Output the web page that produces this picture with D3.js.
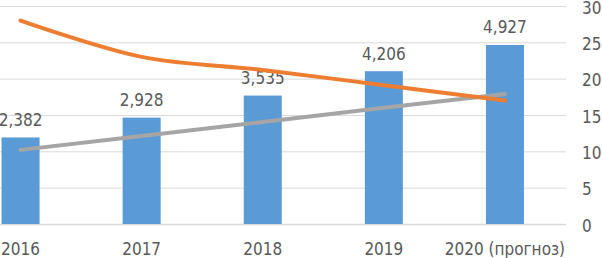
<!DOCTYPE html>
<html><head><meta charset="utf-8">
<script src="https://cdn.jsdelivr.net/npm/d3@7"></script>
<style>
html,body{margin:0;padding:0;background:#fff;overflow:hidden}
text{font-family:"DejaVu Sans Condensed","Liberation Sans Narrow",sans-serif;fill:#595959}
</style></head>
<body>
<svg id="chart" width="602" height="258"></svg>
<script>
const categories = ["2016","2017","2018","2019","2020 (прогноз)"];
const barValues = [2.382, 2.928, 3.535, 4.206, 4.927];
const barLabels = ["2,382","2,928","3,535","4,206","4,927"];
const orangeValues = [28, 23, 21.2, 19.1, 17.0];
const grayValues = [10.2, 12.1, 14.05, 16.0, 17.9];
const rightTicks = [0,5,10,15,20,25,30];

const FS = 17;
const svg = d3.select("#chart");
const x = d3.scaleBand().domain(categories).range([-40, 565.5]).paddingInner(0.686).paddingOuter(0.343);
const yR = d3.scaleLinear().domain([0,30]).range([224,6]);
const yB = d3.scaleLinear().domain([0,6]).range([224,6]);

// gridlines
svg.append("g").selectAll("line").data(rightTicks).join("line")
  .attr("x1",0).attr("x2",566)
  .attr("y1",d=>yR(d)+0.5).attr("y2",d=>yR(d)+0.5)
  .attr("stroke","#D9D9D9").attr("stroke-width",d=>d===0?1.5:1);

// right axis
const ax = svg.append("g").attr("transform","translate(576,0)")
  .call(d3.axisRight(yR).tickValues(rightTicks).tickSize(0).tickPadding(6));
ax.select(".domain").remove();
ax.selectAll("text").attr("font-size",FS).attr("dy","0.42em")
  .style("font-family",'"DejaVu Sans Condensed",sans-serif').attr("fill","#595959");

// bars
svg.append("g").selectAll("rect").data(categories).join("rect")
  .attr("x",d=>x(d)).attr("width",x.bandwidth())
  .attr("y",(d,i)=>yB(barValues[i])).attr("height",(d,i)=>224-yB(barValues[i]))
  .attr("fill","#5B9BD5");

// bar labels
svg.append("g").selectAll("text").data(categories).join("text")
  .attr("x",d=>x(d)+x.bandwidth()/2).attr("y",(d,i)=>yB(barValues[i])-11.5)
  .attr("text-anchor","middle").attr("font-size",FS)
  .text((d,i)=>barLabels[i]);

const cx = d=>x(d)+x.bandwidth()/2;
// gray line
svg.append("path").datum(grayValues)
  .attr("d",d3.line().x((d,i)=>cx(categories[i])).y(d=>yR(d)))
  .attr("fill","none").attr("stroke","#A5A5A5").attr("stroke-width",4).attr("stroke-linecap","round");
// orange line
svg.append("path").datum(orangeValues)
  .attr("d",d3.line().curve(d3.curveCatmullRom.alpha(0.5)).x((d,i)=>cx(categories[i])).y(d=>yR(d)))
  .attr("fill","none").attr("stroke","#ED7D31").attr("stroke-width",4).attr("stroke-linecap","round");

// x labels
svg.append("g").selectAll("text").data(categories).join("text")
  .attr("x",d=>cx(d)).attr("y",255)
  .attr("text-anchor","middle").attr("font-size",FS)
  .text(d=>d);
</script>
</body></html>
